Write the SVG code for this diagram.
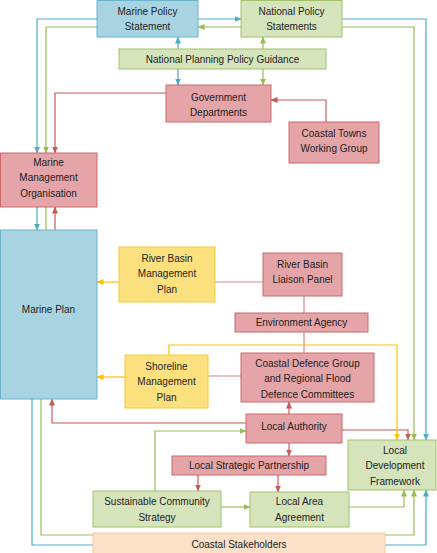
<svg xmlns="http://www.w3.org/2000/svg" width="437" height="553" viewBox="0 0 437 553">
<style>
text{font-family:"Liberation Sans",Arial,sans-serif;font-size:10px;fill:#222;text-anchor:middle}
.bl{fill:#a8d4e2;stroke:#6db4ca;stroke-width:1}
.gr{fill:#d6e4bc;stroke:#a3c168;stroke-width:1}
.rd{fill:#e5a4a7;stroke:#c9686b;stroke-width:1}
.ye{fill:#fee17f;stroke:#f2c93c;stroke-width:1}
.pe{fill:#fde0c8;stroke:#f8cba6;stroke-width:1}
.c{fill:none;stroke-width:1.2}
.cb{stroke:#4bacc6}.cg{stroke:#9bbb59}.cr{stroke:#c55a5c}.cy{stroke:#ffc000}.cp{stroke:#d5898b}
</style>
<defs>
<marker id="ab" markerWidth="7" markerHeight="6" refX="6.5" refY="3" orient="auto" markerUnits="userSpaceOnUse"><path d="M0,0 L7,3 L0,6 z" fill="#4bacc6"/></marker>
<marker id="ag" markerWidth="7" markerHeight="6" refX="6.5" refY="3" orient="auto" markerUnits="userSpaceOnUse"><path d="M0,0 L7,3 L0,6 z" fill="#9bbb59"/></marker>
<marker id="ar" markerWidth="7" markerHeight="6" refX="6.5" refY="3" orient="auto" markerUnits="userSpaceOnUse"><path d="M0,0 L7,3 L0,6 z" fill="#c55a5c"/></marker>
<marker id="ay" markerWidth="7" markerHeight="6" refX="6.5" refY="3" orient="auto" markerUnits="userSpaceOnUse"><path d="M0,0 L7,3 L0,6 z" fill="#ffc000"/></marker>
</defs>
<g id="connectors">
<path class="c cb" d="M198,19 H241" marker-end="url(#ab)"/>
<path class="c cb" d="M97,19 H37 V153" marker-end="url(#ab)"/>
<path class="c cb" d="M37,207 V230" marker-end="url(#ab)"/>
<path class="c cb" d="M342,19 H426 V440" marker-end="url(#ab)"/>
<path class="c cb" d="M32,399 V545 H426 V490" marker-end="url(#ab)"/>
<path class="c cb" d="M178,49 V37" marker-end="url(#ab)"/>
<path class="c cb" d="M178,69 V85" marker-end="url(#ab)"/>
<path class="c cg" d="M241,27 H198" marker-end="url(#ag)"/>
<path class="c cg" d="M97,27 H46 V153" marker-end="url(#ag)"/>
<path class="c cg" d="M46,207 V230"/>
<path class="c cg" d="M342,27 H414 V440" marker-end="url(#ag)"/>
<path class="c cg" d="M41,399 V535 H414 V490" marker-end="url(#ag)"/>
<path class="c cg" d="M263,49 V37" marker-end="url(#ag)"/>
<path class="c cg" d="M263,69 V85" marker-end="url(#ag)"/>
<path class="c cg" d="M155,491 V431 H246" marker-end="url(#ag)"/>
<path class="c cg" d="M221,507 H250" marker-end="url(#ag)"/>
<path class="c cg" d="M349,507 H404 V490" marker-end="url(#ag)"/>
<path class="c cr" d="M166,93 H55 V153" marker-end="url(#ar)"/>
<path class="c cr" d="M55,230 V207" marker-end="url(#ar)"/>
<path class="c cr" d="M326,122 V100 H271" marker-end="url(#ar)"/>
<path class="c cr" d="M246,423 H52 V399" marker-end="url(#ar)"/>
<path class="c cr" d="M289,414 V402" marker-end="url(#ar)"/>
<path class="c cr" d="M342,430 H408 V440" marker-end="url(#ar)"/>
<path class="c cr" d="M289,443 V456" marker-end="url(#ar)"/>
<path class="c cr" d="M278,475 V492" marker-end="url(#ar)"/>
<path class="c cr" d="M198,475 V491" marker-end="url(#ar)"/>
<path class="c cp" d="M215,282 H263"/>
<path class="c cp" d="M304,296 V313"/>
<path class="c cp" d="M304,332 V353"/>
<path class="c cp" d="M241,376 H208"/>
<path class="c cy" d="M119,282 H97" marker-end="url(#ay)"/>
<path class="c cy" d="M125,377 H97" marker-end="url(#ay)"/>
<path class="c cy" d="M169,355 V345 H397 V440" marker-end="url(#ay)"/>
</g>
<g id="mps"><rect class="bl" x="97" y="0.5" width="101" height="36.5"/><text x="147.5" y="14.5">Marine Policy</text><text x="147.5" y="29.5">Statement</text></g>
<g id="nps"><rect class="gr" x="241" y="0.5" width="101" height="36.5"/><text x="291.5" y="14.5">National Policy</text><text x="291.5" y="29.5">Statements</text></g>
<g id="nppg"><rect class="gr" x="119" y="49" width="207" height="20"/><text x="222.5" y="62.5">National Planning Policy Guidance</text></g>
<g id="gov"><rect class="rd" x="166" y="85" width="105" height="37"/><text x="218.5" y="100.5">Government</text><text x="218.5" y="115.5">Departments</text></g>
<g id="ctwg"><rect class="rd" x="289" y="122" width="90" height="41"/><text x="334" y="136.5">Coastal Towns</text><text x="334" y="151.5">Working Group</text></g>
<g id="mmo"><rect class="rd" x="0.5" y="153" width="96.5" height="54"/><text x="48.5" y="165.5">Marine</text><text x="48.5" y="181">Management</text><text x="48.5" y="196.5">Organisation</text></g>
<g id="mp"><rect class="bl" x="0.5" y="230" width="96.5" height="169"/><text x="48.5" y="312.5">Marine Plan</text></g>
<g id="rbmp"><rect class="ye" x="119" y="247" width="96" height="55"/><text x="167" y="261.5">River Basin</text><text x="167" y="277">Management</text><text x="167" y="292.5">Plan</text></g>
<g id="rblp"><rect class="rd" x="263" y="253" width="79" height="43"/><text x="302.5" y="267.5">River Basin</text><text x="302.5" y="283">Liaison Panel</text></g>
<g id="ea"><rect class="rd" x="235" y="313" width="133" height="19"/><text x="301.5" y="326">Environment Agency</text></g>
<g id="cdg"><rect class="rd" x="241" y="353" width="133" height="49"/><text x="307.5" y="366.5">Coastal Defence Group</text><text x="307.5" y="382">and Regional Flood</text><text x="307.5" y="397.5">Defence Committees</text></g>
<g id="smp"><rect class="ye" x="125" y="355" width="83" height="53"/><text x="166.5" y="369.5">Shoreline</text><text x="166.5" y="385">Management</text><text x="166.5" y="400.5">Plan</text></g>
<g id="la"><rect class="rd" x="246" y="414" width="96" height="29"/><text x="294" y="430">Local Authority</text></g>
<g id="lsp"><rect class="rd" x="172" y="456" width="154" height="19"/><text x="249" y="469">Local Strategic Partnership</text></g>
<g id="ldf"><rect class="gr" x="348" y="440" width="88" height="50"/><text x="395" y="453.5">Local</text><text x="395" y="469">Development</text><text x="395" y="484.5">Framework</text></g>
<g id="scs"><rect class="gr" x="93" y="491" width="128" height="36"/><text x="157" y="504.5">Sustainable Community</text><text x="157" y="520.5">Strategy</text></g>
<g id="laa"><rect class="gr" x="250" y="492" width="99" height="35"/><text x="299.5" y="504.5">Local Area</text><text x="299.5" y="520.5">Agreement</text></g>
<g id="cs"><rect class="pe" x="93" y="533" width="292" height="26"/><text x="239" y="547.5">Coastal Stakeholders</text></g>
</svg>
